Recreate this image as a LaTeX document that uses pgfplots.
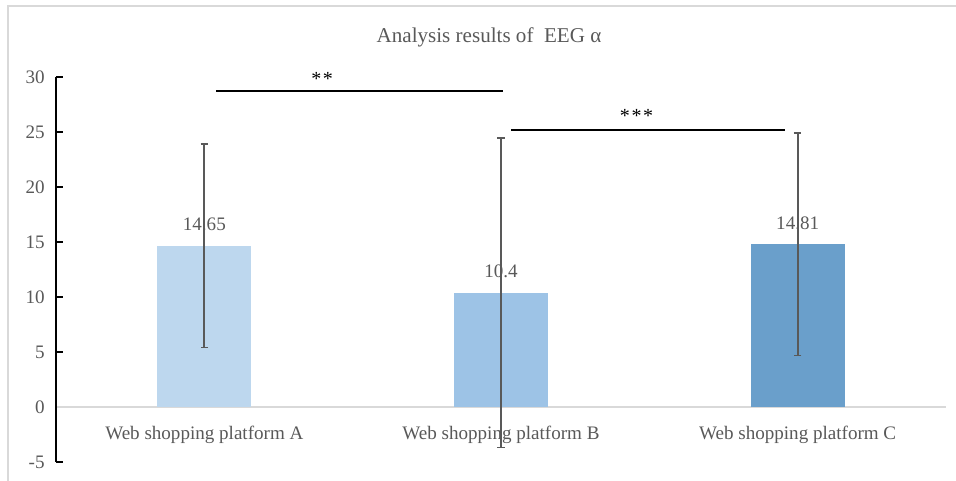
\documentclass[border=0pt]{standalone}
\usepackage{pgfplots}
\pgfplotsset{compat=1.18}
\usepackage{fontspec}
\setmainfont{Liberation Serif}

\definecolor{barA}{HTML}{BDD7EE}
\definecolor{barB}{HTML}{9DC3E6}
\definecolor{barC}{HTML}{6A9FCB}
\definecolor{txt}{HTML}{595959}
\definecolor{errc}{HTML}{595959}
\definecolor{framec}{HTML}{D9D9D9}
\definecolor{zeroc}{HTML}{D9D9D9}

\begin{document}
\begin{tikzpicture}
\path[use as bounding box] (0pt,0pt) rectangle (717pt,360.75pt);
% chart frame
\draw[framec, line width=1pt] (6pt,-1pt) -- (6pt,356.25pt) -- (718pt,356.25pt);
% title
\node[text=txt, font=\fontsize{15.8}{18}\selectfont] at (366.75pt,332.5pt) {Analysis results of\ \ EEG α};

\begin{axis}[
  at={(42pt,14.25pt)}, anchor=south west,
  scale only axis, width=667.5pt, height=288.75pt,
  xmin=-0.5, xmax=2.5, ymin=-5, ymax=30,
  axis y line=left, axis x line=middle,
  x axis line style={draw=zeroc, line width=1pt, -},
  y axis line style={draw=black, line width=1.3pt, -},
  ytick={-5,0,5,10,15,20,25,30},
  yticklabels={-5,0,5,10,15,20,25,30},
  xtick={0,1,2},
  xticklabels={Web shopping platform A, Web shopping platform B, Web shopping platform C},
  tick align=inside,
  major tick length=5pt,
  ytick style={draw=black, line width=1.3pt},
  xtick style={draw=none},
  tick label style={font=\fontsize{14.3}{16}\selectfont, text=txt},
  yticklabel style={xshift=-5pt},
  xticklabel style={yshift=-5.5pt},
  /pgf/number format/assume math mode=true,
  ybar, bar width=70.5pt, bar shift=0pt,
  nodes near coords,
  nodes near coords style={font=\fontsize{14.3}{16}\selectfont, text=txt, yshift=7.5pt},
  error bars/y dir=both, error bars/y explicit,
  error bars/error bar style={draw=errc, line width=1.3pt},
  error bars/error mark options={draw=errc, rotate=90, mark size=2.8pt, line width=1.3pt},
  clip=false,
]
\addplot[fill=barA, draw=none] coordinates {(0,14.65) +- (0,9.23)};
\addplot[fill=barB, draw=none] coordinates {(1,10.4) +- (0,14.07)};
\addplot[fill=barC, draw=none] coordinates {(2,14.81) +- (0,10.13)};

% significance brackets
\draw[black, line width=1.25pt] (axis cs:0.04,28.7) -- (axis cs:1.006,28.7);
\node[font=\fontsize{15}{16}\selectfont] at (axis cs:0.397,29.85) {*\hspace{1.2pt}*};
\draw[black, line width=1.25pt] (axis cs:1.034,25.2) -- (axis cs:1.958,25.2);
\node[font=\fontsize{15}{16}\selectfont] at (axis cs:1.457,26.45) {*\hspace{1.2pt}*\hspace{1.2pt}*};
\end{axis}
\end{tikzpicture}
\end{document}
